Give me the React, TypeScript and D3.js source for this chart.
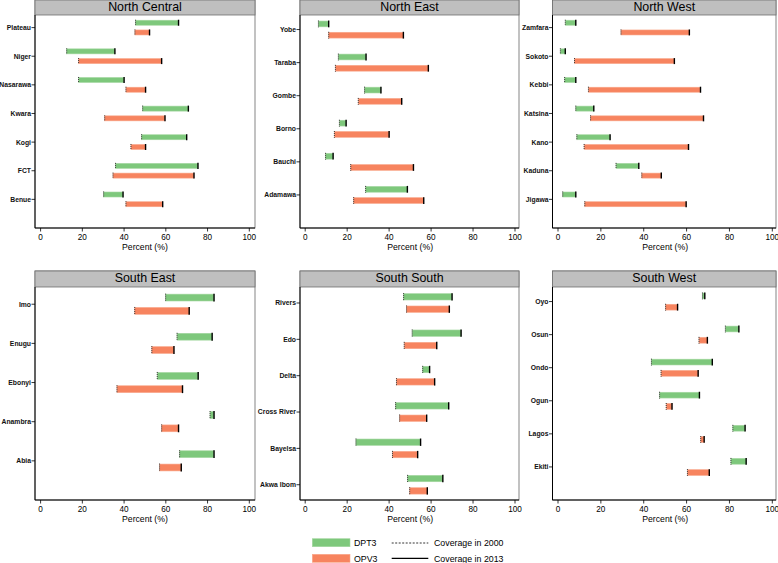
import React from "react";
import * as d3 from "d3";

// ---- data (values in percent; [coverage 2000, coverage 2013]) ----
const ncStates = ["Plateau", "Niger", "Nasarawa", "Kwara", "Kogi", "FCT", "Benue"];
const ncDpt3 = [[45.5, 66.1], [12.5, 35.6], [18.2, 40.0], [48.9, 70.8], [48.4, 70.0], [35.9, 75.4], [30.2, 39.5]];
const ncOpv3 = [[45.2, 52.2], [18.2, 58.0], [40.9, 50.3], [30.7, 59.6], [43.3, 50.3], [34.7, 73.5], [40.9, 58.5]];

const neStates = ["Yobe", "Taraba", "Gombe", "Borno", "Bauchi", "Adamawa"];
const neDpt3 = [[6.3, 11.2], [15.8, 29.0], [28.3, 36.1], [16.3, 19.5], [9.7, 13.3], [28.8, 48.7]];
const neOpv3 = [[11.2, 46.8], [14.4, 58.7], [25.3, 46.0], [13.9, 40.0], [21.7, 51.6], [23.1, 56.5]];

const nwStates = ["Zamfara", "Sokoto", "Kebbi", "Katsina", "Kano", "Kaduna", "Jigawa"];
const nwDpt3 = [[3.4, 8.3], [1.1, 3.4], [3.1, 8.3], [8.3, 16.7], [8.8, 24.3], [27.1, 37.7], [2.2, 8.3]];
const nwOpv3 = [[29.4, 61.3], [7.7, 54.3], [14.2, 66.5], [15.2, 67.9], [12.2, 60.9], [39.1, 48.2], [12.5, 59.8]];

const seStates = ["Imo", "Enugu", "Ebonyi", "Anambra", "Abia"];
const seDpt3 = [[59.9, 83.1], [65.4, 82.2], [55.9, 75.5], [81.2, 83.1], [66.6, 83.1]];
const seOpv3 = [[45.1, 71.2], [53.3, 63.9], [36.6, 68.0], [58.0, 66.1], [57.0, 67.4]];

const ssStates = ["Rivers", "Edo", "Delta", "Cross River", "Bayelsa", "Akwa Ibom"];
const ssDpt3 = [[46.9, 70.0], [51.0, 74.3], [56.0, 59.3], [43.1, 68.4], [24.2, 55.0], [48.8, 65.6]];
const ssOpv3 = [[48.3, 68.7], [47.2, 62.7], [43.5, 61.7], [45.0, 57.9], [41.6, 53.6], [49.8, 58.2]];

const swStates = ["Oyo", "Osun", "Ondo", "Ogun", "Lagos", "Ekiti"];
const swDpt3 = [[67.4, 68.5], [78.1, 84.4], [43.6, 72.0], [47.4, 66.0], [81.6, 87.3], [80.7, 87.8]];
const swOpv3 = [[50.2, 55.8], [65.8, 69.7], [48.1, 65.4], [50.5, 53.2], [66.6, 68.2], [60.4, 70.6]];

const regionNames = ["North Central", "North East", "North West", "South East", "South South", "South West"];
const xTicks = [0, 20, 40, 60, 80, 100];
const seriesNames = ["DPT3", "OPV3"];
const lineNames = ["Coverage in 2000", "Coverage in 2013"];

// ---- layout ----
const COLS = [
  { left: 35, right: 255, x0: 40.6, x100: 249.3 },
  { left: 300, right: 519, x0: 305.2, x100: 515 },
  { left: 552.5, right: 776, x0: 558, x100: 772.3 },
];
const ROWS = [
  { top: 0, stripBottom: 15, axis: 228 },
  { top: 271, stripBottom: 287, axis: 500 },
];
const Y_START = -0.44;
const Y_ENDS = [7.0, 6.0, 7.0, 5.0, 5.42, 6.0];

const GREEN = "#7ec87c";
const GREEN_EDGE = "#a6d8a2";
const ORANGE = "#f7845f";
const ORANGE_EDGE = "#f9a88c";
const FONT = "'Liberation Sans', Arial, sans-serif";

const panelData = [
  { states: ncStates, dpt3: ncDpt3, opv3: ncOpv3 },
  { states: neStates, dpt3: neDpt3, opv3: neOpv3 },
  { states: nwStates, dpt3: nwDpt3, opv3: nwOpv3 },
  { states: seStates, dpt3: seDpt3, opv3: seOpv3 },
  { states: ssStates, dpt3: ssDpt3, opv3: ssOpv3 },
  { states: swStates, dpt3: swDpt3, opv3: swOpv3 },
];

function RangeBar({ x, y, pos, vals, fill, edge, h }: any) {
  const [v0, v1] = vals;
  const cy = y(pos);
  const top = y(pos - h / 2);
  const bh = y(pos + h / 2) - top;
  const xa = x(Math.min(v0, v1));
  const xb = x(Math.max(v0, v1));
  return (
    <g>
      <rect x={xa} y={top} width={Math.max(xb - xa, 0.5)} height={bh} fill={fill} stroke={edge} strokeWidth={0.6} />
      <line x1={x(v0)} x2={x(v0)} y1={top - 0.5} y2={top + bh + 0.5} stroke="#333" strokeWidth={1} strokeDasharray="1,1" />
      <line x1={x(v1)} x2={x(v1)} y1={top - 0.5} y2={top + bh + 0.5} stroke="#000" strokeWidth={1.4} />
      <title>{`${cy}`}</title>
    </g>
  );
}

function Panel({ idx }: { idx: number }) {
  const col = COLS[idx % 3];
  const row = ROWS[Math.floor(idx / 3)];
  const d = panelData[idx];
  const x = d3.scaleLinear().domain([0, 100]).range([col.x0, col.x100]);
  const y = d3.scaleLinear().domain([Y_START, Y_ENDS[idx]]).range([row.stripBottom, row.axis]);
  const off = 0.17;
  const bh = 0.175;
  return (
    <g>
      {/* frame */}
      <rect x={col.left} y={row.top} width={col.right - col.left} height={row.axis - row.top} fill="#fff" stroke="#666" strokeWidth={0.8} />
      {/* title strip */}
      <rect x={col.left} y={row.top} width={col.right - col.left} height={row.stripBottom - row.top} fill="#bfbfbf" stroke="#6e6e6e" strokeWidth={0.8} />
      <text x={(col.left + col.right) / 2} y={row.top + 11.3} textAnchor="middle" fontFamily={FONT} fontSize={12.4} fill="#000">
        {regionNames[idx]}
      </text>
      {/* axes lines */}
      <line x1={col.left} x2={col.left} y1={row.stripBottom} y2={row.axis} stroke="#000" strokeWidth={1} />
      <line x1={col.left} x2={col.right} y1={row.axis} y2={row.axis} stroke="#000" strokeWidth={1} />
      {/* x ticks */}
      {xTicks.map((t) => (
        <g key={t}>
          <line x1={x(t)} x2={x(t)} y1={row.axis} y2={row.axis + 3.5} stroke="#000" strokeWidth={0.8} />
          <text x={x(t)} y={row.axis + 12.3} textAnchor="middle" fontFamily={FONT} fontSize={8.2} fill="#000">
            {t}
          </text>
        </g>
      ))}
      <text x={(x(0) + x(100)) / 2} y={row.axis + 21.5} textAnchor="middle" fontFamily={FONT} fontSize={8.7} fill="#000">
        Percent (%)
      </text>
      {/* y ticks + labels */}
      {d.states.map((s, i) => (
        <g key={s}>
          <line x1={col.left - 3.5} x2={col.left} y1={y(i)} y2={y(i)} stroke="#000" strokeWidth={0.8} />
          <text x={col.left - 4} y={y(i) + 2.4} textAnchor="end" fontFamily={FONT} fontSize={6.8} fontWeight="bold" fill="#111">
            {s}
          </text>
        </g>
      ))}
      {/* bars */}
      {d.states.map((s, i) => (
        <g key={"b" + s}>
          <RangeBar x={x} y={y} pos={i - off} vals={d.dpt3[i]} fill={GREEN} edge={GREEN_EDGE} h={bh} />
          <RangeBar x={x} y={y} pos={i + off} vals={d.opv3[i]} fill={ORANGE} edge={ORANGE_EDGE} h={bh} />
        </g>
      ))}
    </g>
  );
}

function Legend() {
  const fs = 8.8;
  return (
    <g fontFamily={FONT} fontSize={fs} fill="#000">
      <rect x={312.3} y={538.7} width={37.7} height={8} fill={GREEN} stroke={GREEN_EDGE} strokeWidth={0.6} />
      <text x={354} y={545.9}>{seriesNames[0]}</text>
      <rect x={312.3} y={554.3} width={37.7} height={8} fill={ORANGE} stroke={ORANGE_EDGE} strokeWidth={0.6} />
      <text x={354} y={561.5}>{seriesNames[1]}</text>
      <line x1={391.7} x2={428.3} y1={543} y2={543} stroke="#000" strokeWidth={0.8} strokeDasharray="2,1.5" />
      <text x={434} y={545.9}>{lineNames[0]}</text>
      <line x1={391.7} x2={428.3} y1={558.3} y2={558.3} stroke="#000" strokeWidth={1.2} />
      <text x={434} y={561.5}>{lineNames[1]}</text>
    </g>
  );
}

export default function App() {
  return (
    <svg
      width={778}
      height={563}
      viewBox="0 0 778 563"
      style={{ position: "absolute", left: 0, top: 0, background: "#fff" }}
    >
      <rect x={0} y={0} width={778} height={563} fill="#fff" />
      {regionNames.map((_, i) => (
        <Panel key={i} idx={i} />
      ))}
      <Legend />
    </svg>
  );
}
